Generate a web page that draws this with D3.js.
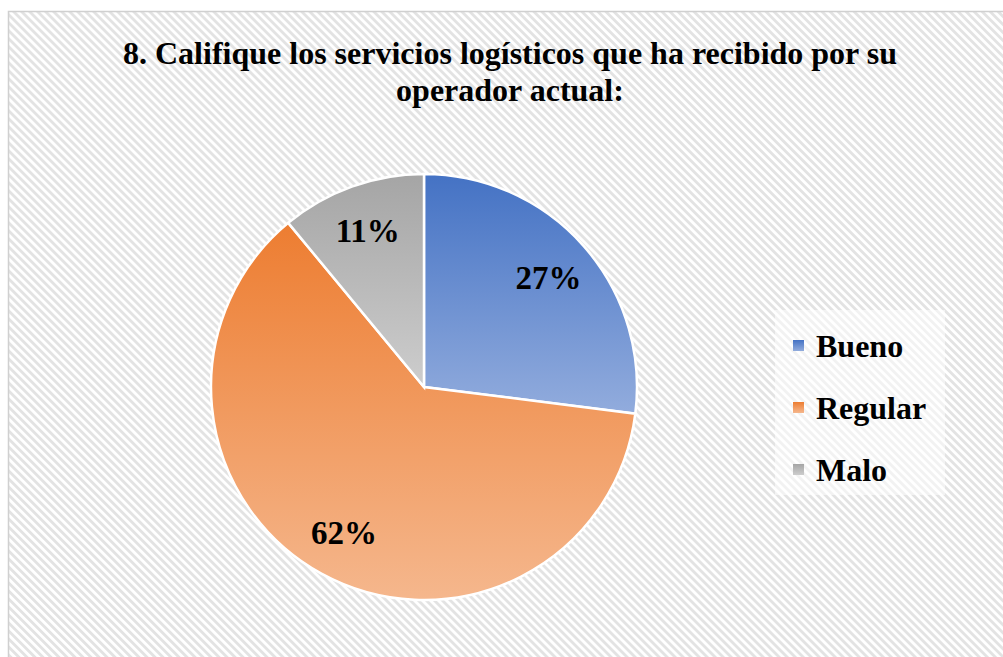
<!DOCTYPE html>
<html>
<head>
<meta charset="utf-8">
<script src="https://cdn.jsdelivr.net/npm/d3@7"></script>
<style>
  html, body { margin: 0; padding: 0; background: #fff; }
  svg { display: block; font-family: "Liberation Serif", "Times New Roman", serif; }
</style>
</head>
<body>
<div id="chart"></div>
<script>
// chart data
const categories = ['Bueno', 'Regular', 'Malo'];
const values = [27, 62, 11];
const labels = ['27%', '62%', '11%'];
const titleLines = ['8. Califique los servicios logísticos que ha recibido por su', 'operador actual:'];

const colorsTop = ['#4472C4', '#ED7D31', '#A5A5A5'];
const colorsBottom = ['#92ACDD', '#F5B78D', '#CDCDCD'];

const W = 1003, H = 657;
const cx = 424, cy = 387, radius = 213;

const svg = d3.select('#chart')
    .append('svg')
    .attr('width', W)
    .attr('height', H);

const defs = svg.append('defs');

// diagonal hatch background
const pat = defs.append('pattern')
    .attr('id', 'hatch')
    .attr('patternUnits', 'userSpaceOnUse')
    .attr('width', 5.66)
    .attr('height', 5.66)
    .attr('patternTransform', 'rotate(-45)');
pat.append('rect').attr('width', 5.66).attr('height', 5.66).attr('fill', '#fff');
pat.append('rect').attr('width', 2.83).attr('height', 5.66).attr('fill', '#e3e3e3');

// gradients for slices
categories.forEach((c, i) => {
    const g = defs.append('linearGradient')
        .attr('id', 'grad' + i)
        .attr('x1', 0).attr('y1', 0)
        .attr('x2', 0).attr('y2', 1);
    g.append('stop').attr('offset', '0%').attr('stop-color', colorsTop[i]);
    g.append('stop').attr('offset', '100%').attr('stop-color', colorsBottom[i]);
});

svg.append('rect')
    .attr('x', 8.5).attr('y', 11.5)
    .attr('width', W).attr('height', H)
    .attr('fill', 'url(#hatch)')
    .attr('stroke', '#d0d0d0')
    .attr('stroke-width', 1.5);

// title
svg.append('text')
    .attr('x', 510)
    .attr('text-anchor', 'middle')
    .attr('font-weight', 'bold')
    .attr('font-size', 32)
    .attr('fill', '#000')
    .selectAll('tspan')
    .data(titleLines)
    .join('tspan')
    .attr('x', 510)
    .attr('y', (d, i) => 64 + i * 37)
    .text(d => d);

// pie
const pie = d3.pie().sort(null).value(d => d);
const arc = d3.arc().innerRadius(0).outerRadius(radius);
const labelArc = d3.arc().innerRadius(radius * 0.78).outerRadius(radius * 0.78);

const g = svg.append('g').attr('transform', `translate(${cx},${cy})`);
const arcs = pie(values);

g.selectAll('path.slice')
    .data(arcs)
    .join('path')
    .attr('class', 'slice')
    .attr('d', arc)
    .attr('fill', (d, i) => `url(#grad${i})`)
    .attr('stroke', '#fff')
    .attr('stroke-width', 2.5);

g.selectAll('text.lbl')
    .data(arcs)
    .join('text')
    .attr('class', 'lbl')
    .attr('transform', d => `translate(${labelArc.centroid(d)})`)
    .attr('text-anchor', 'middle')
    .attr('dy', '0.35em')
    .attr('font-weight', 'bold')
    .attr('font-size', 33)
    .text((d, i) => labels[i]);

// legend
svg.append('rect')
    .attr('x', 775).attr('y', 310)
    .attr('width', 170).attr('height', 185)
    .attr('fill', '#fff')
    .attr('opacity', 0.55);

const legend = svg.append('g');
const item = legend.selectAll('g')
    .data(categories)
    .join('g')
    .attr('transform', (d, i) => `translate(793,${346 + i * 62})`);

item.append('rect')
    .attr('y', -6)
    .attr('width', 11).attr('height', 11)
    .attr('fill', (d, i) => `url(#grad${i})`);

item.append('text')
    .attr('x', 23)
    .attr('dy', '0.35em')
    .attr('font-weight', 'bold')
    .attr('font-size', 32)
    .text(d => d);
</script>
</body>
</html>
